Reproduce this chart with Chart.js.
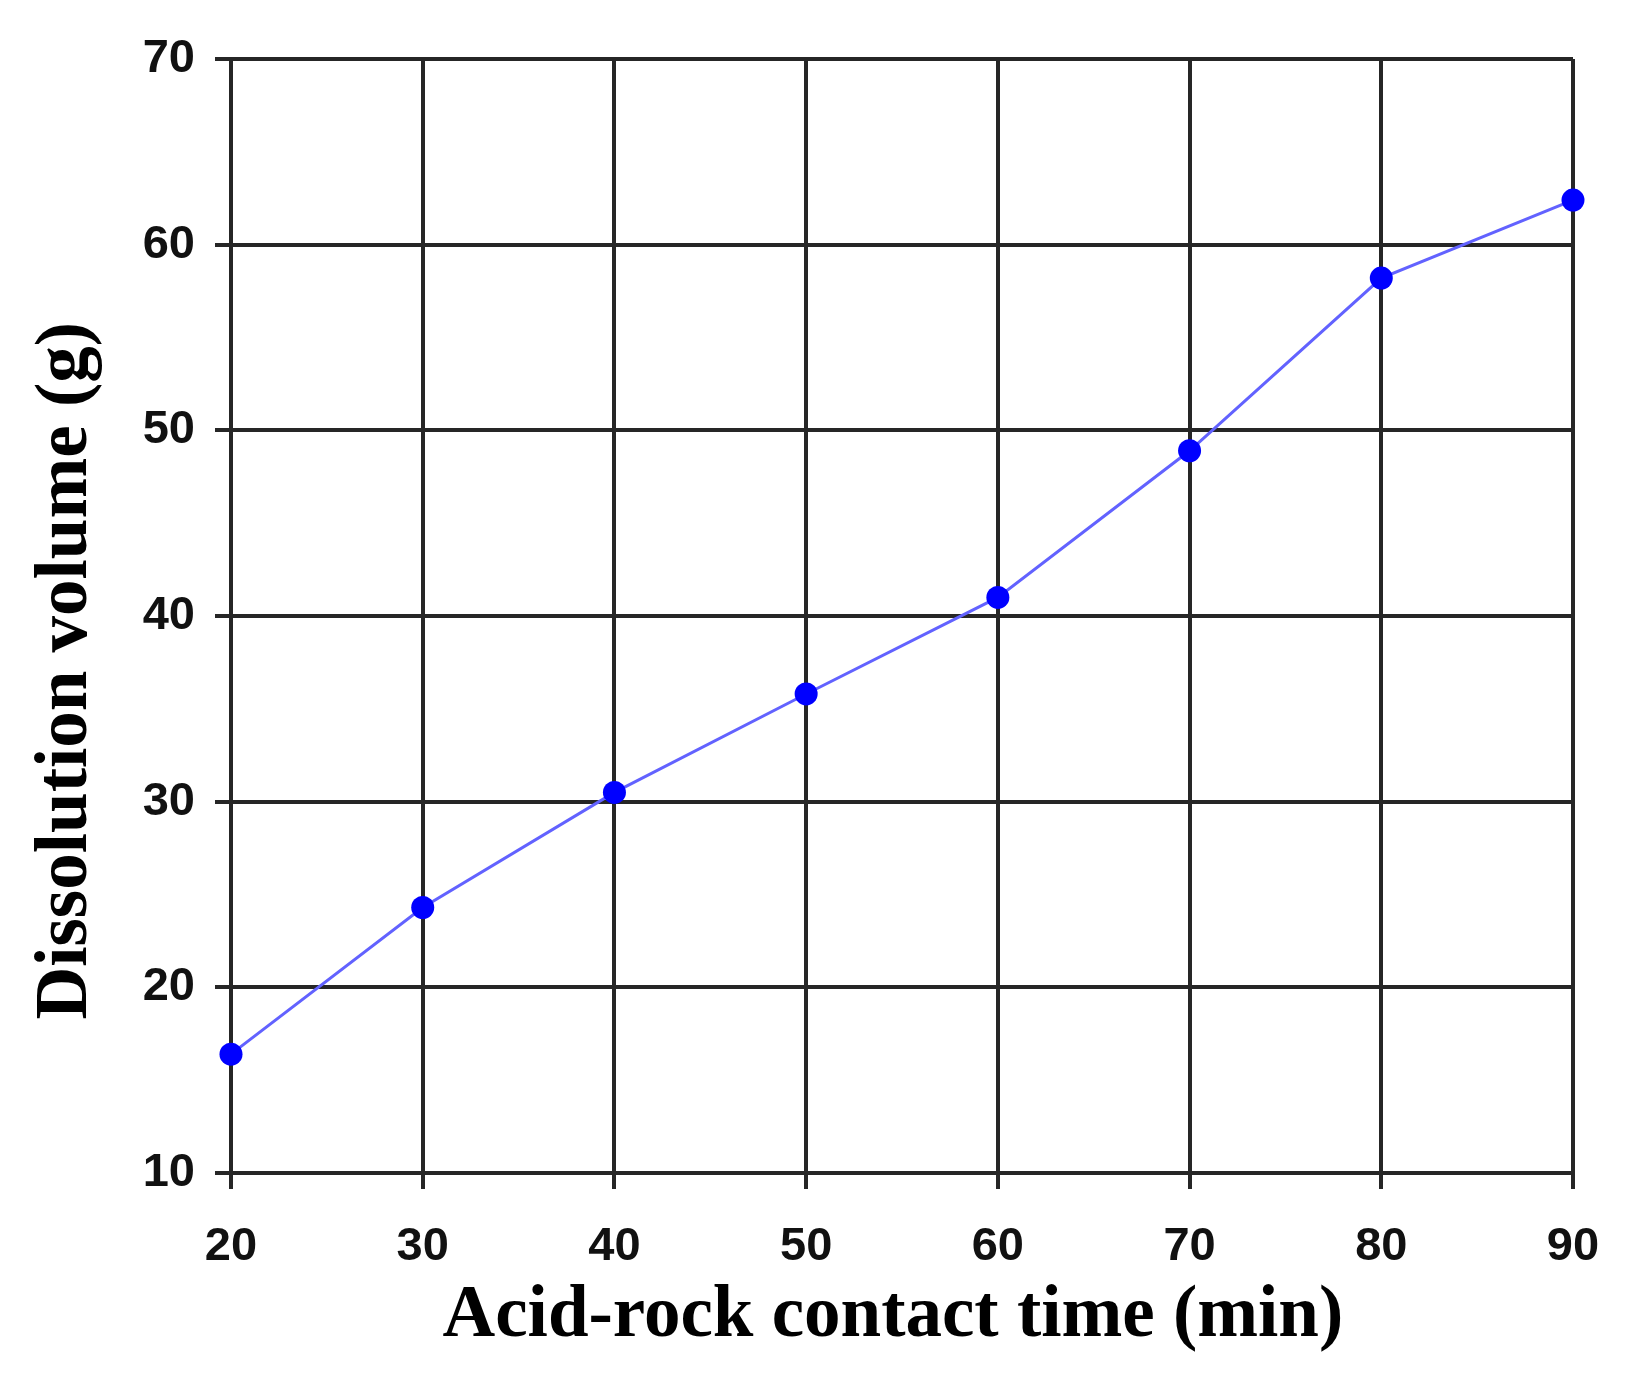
<!DOCTYPE html>
<html>
<head>
<meta charset="utf-8">
<script src="https://cdn.jsdelivr.net/npm/chart.js@4/dist/chart.umd.min.js"></script>
<style>
  html, body { margin: 0; padding: 0; background: #fff; }
  #wrap { width: 1626px; height: 1381px; }
</style>
</head>
<body>
<div id="wrap"><canvas id="c" width="1626" height="1381"></canvas></div>
<script>
// contact time (min) and dissolved mass (g)
const contactTime = [20, 30, 40, 50, 60, 70, 80, 90];
const dissolution = [16.4, 24.3, 30.5, 35.8, 41.0, 48.9, 58.2, 62.4];

// trailing spaces nudge the titles off-centre like in the original figure
const xTitle = 'Acid-rock contact time (min) ';
const yTitle = 'Dissolution volume (g)      ';

const gridColor = '#262626';
const tickFont = {family: '"Liberation Sans", Arial, sans-serif', size: 47, weight: 'bold'};
const titleFont = {family: '"Liberation Serif", "Times New Roman", serif', size: 73, weight: 'bold'};

const points = contactTime.map((x, i) => ({x: x, y: dissolution[i]}));

new Chart(document.getElementById('c').getContext('2d'), {
  type: 'line',
  data: {
    datasets: [{
      data: points,
      borderColor: '#6262ff',
      borderWidth: 3,
      pointBackgroundColor: '#0000ff',
      pointBorderColor: '#0000ff',
      pointRadius: 11.5,
      pointBorderWidth: 0,
      tension: 0,
      clip: false
    }]
  },
  options: {
    responsive: false,
    animation: false,
    devicePixelRatio: 1,
    layout: {padding: {left: 0, top: 59, right: 53, bottom: 0}},
    plugins: {legend: {display: false}, tooltip: {enabled: false}},
    scales: {
      x: {
        type: 'linear',
        min: 20,
        max: 90,
        afterFit: (scale) => {
          scale.height = 208;
          // the "90" label may hang into the right margin
          scale.paddingLeft = 0;
          scale.paddingRight = 0;
        },
        ticks: {stepSize: 10, color: '#111', font: tickFont, padding: 30, maxRotation: 0},
        grid: {color: gridColor, lineWidth: 4, tickLength: 16, drawTicks: true},
        border: {color: gridColor, width: 4},
        title: {display: true, text: xTitle, color: '#000', font: titleFont, padding: {top: 0, bottom: 20}}
      },
      y: {
        min: 10,
        max: 70,
        afterFit: (scale) => { scale.width = 231; },
        ticks: {stepSize: 10, color: '#111', font: tickFont, padding: 20},
        grid: {color: gridColor, lineWidth: 4, tickLength: 16, drawTicks: true},
        border: {color: gridColor, width: 4},
        title: {display: true, text: yTitle, color: '#000', font: titleFont, padding: {top: 23, bottom: 0}}
      }
    }
  }
});
</script>
</body>
</html>
